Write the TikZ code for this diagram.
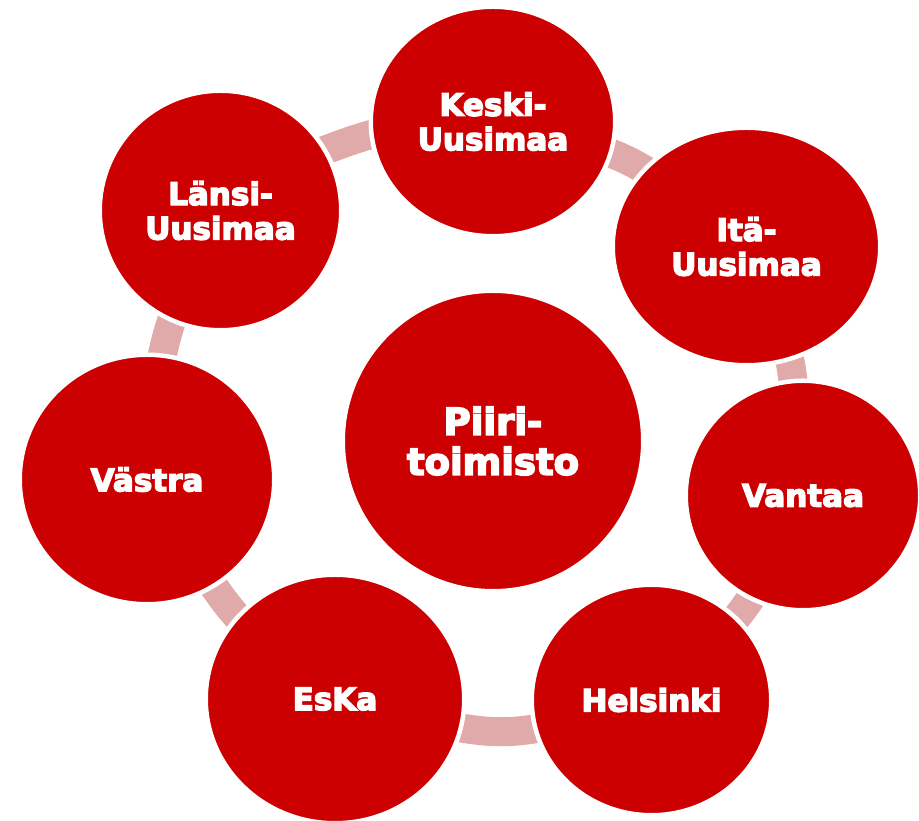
\documentclass[tikz,border=0pt]{standalone}
\usepackage{fontspec}
\setmainfont{DejaVu Sans}[BoldFeatures={FakeBold=4.5}]
\usetikzlibrary{shapes.geometric,backgrounds}
\definecolor{cred}{HTML}{CC0000}
\definecolor{cpink}{HTML}{E1AAAA}
\begin{document}
\begin{tikzpicture}[x=1pt,y=1pt,
  bubble/.style={ellipse, fill=cred, draw=white, line width=4.5pt, inner sep=0pt, outer sep=0pt,
    text=white, font=\bfseries\fontsize{31}{34.5}\selectfont, align=center},
  band/.style={draw=cpink, line width=29pt, line cap=butt, shorten <=-12pt, shorten >=-12pt}]
\useasboundingbox (0,0) rectangle (919,821);
\node[bubble, minimum width=300.5pt, minimum height=300.5pt, font=\bfseries\fontsize{37}{40}\selectfont] (piiri) at (493,380) {Piiri-\\toimisto};
\node[bubble, minimum width=244.5pt, minimum height=229.5pt] (keski) at (493,699.5) {Keski-\\Uusimaa};
\node[bubble, minimum width=267.5pt, minimum height=237.5pt] (ita) at (746.5,574.5) {Itä-\\Uusimaa};
\node[bubble, minimum width=234.5pt, minimum height=229.5pt] (vantaa) at (803,325.5) {Vantaa};
\node[bubble, minimum width=239.5pt, minimum height=230.5pt] (helsinki) at (651.5,121) {Helsinki};
\node[bubble, minimum width=258.5pt, minimum height=248.5pt] (eska) at (335,122) {EsKa};
\node[bubble, minimum width=254.5pt, minimum height=249.5pt] (vastra) at (147,341.5) {Västra};
\node[bubble, minimum width=241.5pt, minimum height=239.5pt] (lansi) at (220.5,610.5) {Länsi-\\Uusimaa};
\begin{scope}[on background layer]
\draw[band] (lansi.30) to[out=20, in=195] (keski.186);
\draw[band] (keski.-15) to[out=-22, in=147] (ita.143);
\draw[band] (ita.-69) to[out=-76, in=96] (vantaa.95);
\draw[band] (vantaa.-117) to[out=-125, in=48] (helsinki.44.5);
\draw[band] (helsinki.194) to[out=190, in=-10] (eska.-13.6);
\draw[band] (eska.140) to[out=132, in=-56] (vastra.-58);
\draw[band] (vastra.83) to[out=80, in=252] (lansi.-114);
\end{scope}
\end{tikzpicture}
\end{document}
